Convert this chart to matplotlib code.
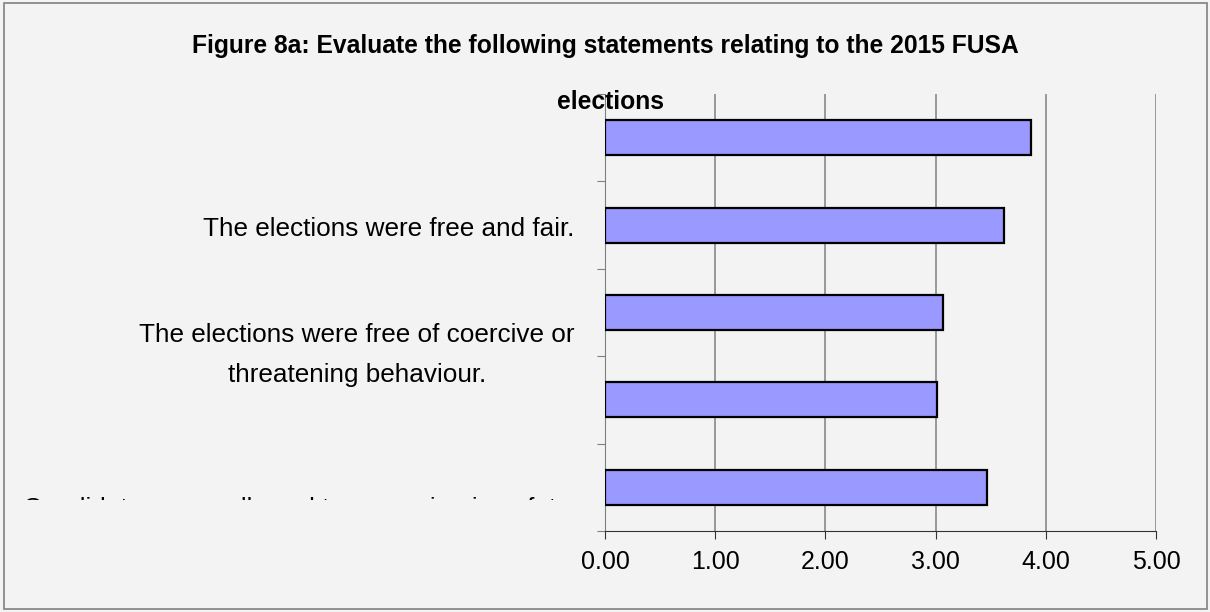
import matplotlib
matplotlib.use('Agg')
import matplotlib.pyplot as plt
from matplotlib.patches import Rectangle
from matplotlib.transforms import Bbox

plt.rcParams['font.family'] = ['Liberation Sans', 'DejaVu Sans']

# 數據 (由上而下)
values = [3.87, 3.62, 3.07, 3.01, 3.47]
title_lines = ['Figure 8a: Evaluate the following statements relating to the 2015 FUSA',
               'elections']
label_free_fair = 'The elections were free and fair.'
label_coercive = 'The elections were free of coercive or\nthreatening behaviour.'
label_clipped = 'Candidates were allowed to campaign in safety.'
x_ticks = [0, 1, 2, 3, 4, 5]

bg = '#f3f3f3'
W, H = 1210, 612
fig = plt.figure(figsize=(W / 100, H / 100), dpi=100, facecolor=bg)

# 外框
fig.patches.append(Rectangle((4 / W, 3 / H), 1203 / W, 606 / H,
                             transform=fig.transFigure, fill=False,
                             edgecolor='#808080', linewidth=1.2))

ax = fig.add_axes([605 / W, 81 / H, 551 / W, 437 / H])
ax.set_facecolor(bg)

ypos = list(range(len(values)))
ax.barh(ypos, values, height=0.4, color='#9999ff', edgecolor='black',
        linewidth=1.6, zorder=3)

ax.set_xlim(0, 5)
ax.set_ylim(len(values) - 0.5, -0.5)
ax.set_xticks(x_ticks)
ax.set_xticklabels([f'{v:.2f}' for v in x_ticks], fontsize=18)
ax.set_yticks([i - 0.5 for i in range(len(values) + 1)])
ax.set_yticklabels([])
ax.tick_params(axis='y', length=6, color='#808080', direction='out')
ax.tick_params(axis='x', length=6, color='#333333', direction='out', pad=8)
ax.grid(axis='x', color='#808080', linewidth=1.1, zorder=0)
for s in ['top', 'right']:
    ax.spines[s].set_visible(False)
ax.spines['left'].set_color('#808080')
ax.spines['bottom'].set_color('#333333')

# 類別標籤 (Excel 只顯示部分)
trans = ax.get_yaxis_transform()
ax.text(-0.055, 1.045, label_free_fair, transform=trans, ha='right',
        va='center', fontsize=18.8, clip_on=False)
ax.text(-0.055, 2.49, label_coercive, transform=trans, ha='right',
        va='center', ma='center', fontsize=18.8, linespacing=1.85, clip_on=False)
# 最後一個標籤被 Excel 截斷, 只露出字母頂端
t = ax.text(-0.055, 4.111, label_clipped, transform=trans, ha='right',
            va='top', fontsize=18.8, clip_on=True)
t.set_clip_box(Bbox([[10, H - 500], [600, H - 496]]))

# 標題
fig.text(0.5, 1 - 53 / H, title_lines[0], ha='center', va='baseline',
         fontsize=17.7, fontweight='bold')
fig.text(611 / W, 1 - 109 / H, title_lines[1], ha='center', va='baseline',
         fontsize=17.7, fontweight='bold')

fig.savefig('out.png', dpi=100, facecolor=bg)
